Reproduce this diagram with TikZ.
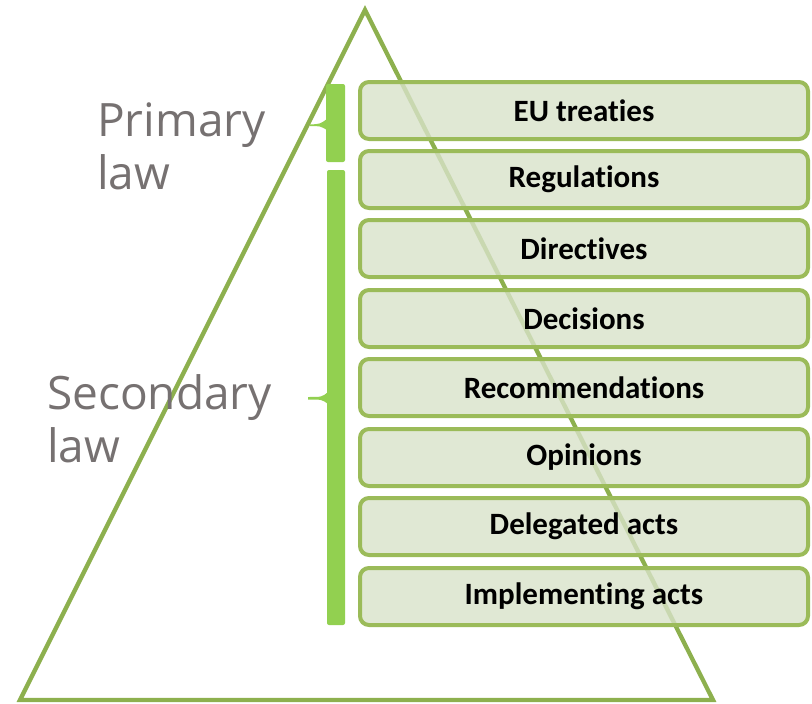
\documentclass[tikz,border=0pt]{standalone}
\usepackage{fontspec}
\setmainfont{Carlito}[Ligatures=NoCommon]
\newfontfamily\graylabelfont{Open Sans}
\definecolor{triline}{HTML}{8DB04E}
\definecolor{boxline}{HTML}{9BBB59}
\definecolor{boxfill}{RGB}{216,226,201}
\definecolor{barfill}{HTML}{92D050}
\definecolor{graytext}{HTML}{767171}
\begin{document}
\begin{tikzpicture}[x=1pt,y=-1pt,
  tri/.style={draw=triline, line width=4.3pt, line join=miter},
  lawbox/.style={draw=boxline, line width=4pt, fill=boxfill, fill opacity=0.8, text opacity=1,
    rounded corners=9pt, minimum width=448pt, minimum height=57pt, inner sep=0pt,
    font=\bfseries\fontsize{31}{36}\selectfont},
  graylabel/.style={anchor=base west, inner sep=0pt, text=graytext,
    font=\graylabelfont\fontsize{46}{53}\selectfont},
  lawbar/.style={fill=barfill, draw=none, rounded corners=2pt}
]
\useasboundingbox (0,0) rectangle (812,704);
% pyramid
\coordinate (apex) at (365,10);
\coordinate (bright) at (713,700);
\coordinate (bleft) at (20,700);
\draw[tri] (apex) -- (bright) -- (bleft) -- cycle;
% boxes
\node[lawbox] (b1) at (584,110.5) {EU treaties};
\node[lawbox] (b2) at (584,179.5) {Regulations};
\node[lawbox] (b3) at (584,248.5) {Directives};
\node[lawbox] (b4) at (584,318.5) {Decisions};
\node[lawbox] (b5) at (584,387.5) {Recommendations};
\node[lawbox] (b6) at (584,457.5) {Opinions};
\node[lawbox] (b7) at (584,526.5) {Delegated acts};
\node[lawbox] (b8) at (584,596.5) {Implementing acts};
% brackets
\fill[lawbar] (326,84) rectangle (345,162);
\fill[barfill] (327,119) .. controls (320,124) .. (310,124.5) -- (310,126) .. controls (320,126) .. (327,130) -- cycle;
\fill[lawbar] (327,170) rectangle (345,625);
\fill[barfill] (328,392) .. controls (322,397) .. (308,397) -- (308,399.5) .. controls (322,399.5) .. (328,404) -- cycle;
% labels
\node[graylabel] (prim1) at (97,136) {Primary};
\node[graylabel] (prim2) at (97,189) {law};
\node[graylabel] (sec1) at (47,409) {Secondary};
\node[graylabel] (sec2) at (47,462) {law};
\end{tikzpicture}
\end{document}
